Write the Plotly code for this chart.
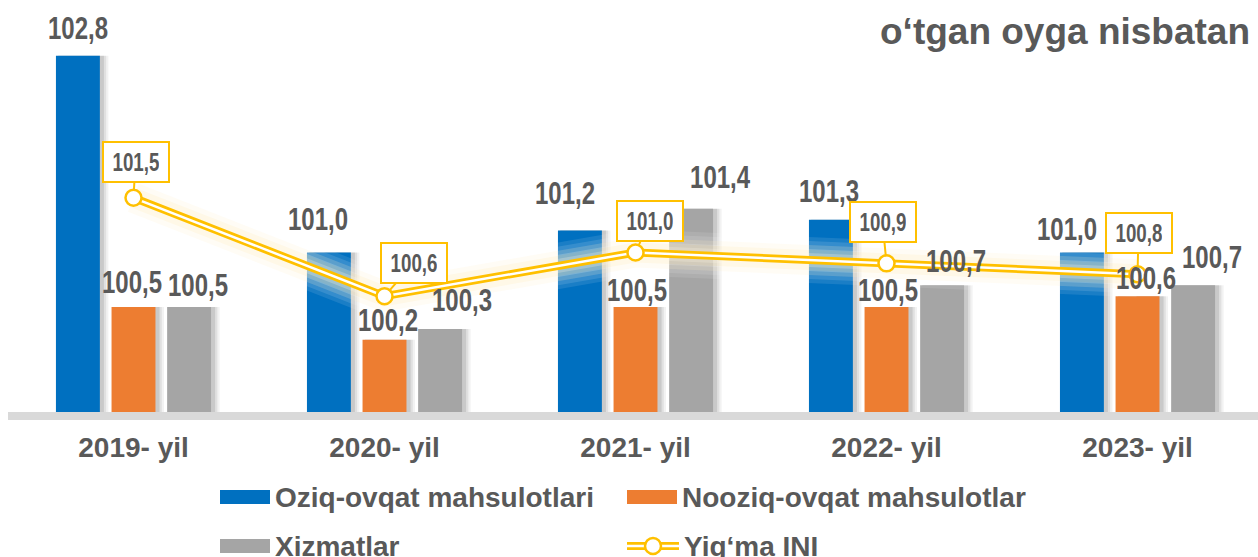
import plotly.graph_objects as go

# ── data ─────────────────────────────────────────────────────
YEARS = ["2019- yil", "2020- yil", "2021- yil", "2022- yil", "2023- yil"]
FOOD = [102.8, 101.0, 101.2, 101.3, 101.0]
NONFOOD = [100.5, 100.2, 100.5, 100.5, 100.6]
SERVICES = [100.5, 100.3, 101.4, 100.7, 100.7]
CPI = [101.5, 100.6, 101.0, 100.9, 100.8]

SERIES_NAMES = ["Oziq-ovqat mahsulotlari", "Nooziq-ovqat mahsulotlar", "Xizmatlar", "Yig‘ma INI"]
TITLE = "o‘tgan oyga nisbatan"

# ── style ────────────────────────────────────────────────────
W, H = 1258, 557
ML, MR, MT, MB = 8, 0, 0, 145
BLUE, ORANGE, GRAY, YELLOW = "#0070C0", "#ED7D31", "#A5A5A5", "#FFC000"
TXT = "#595959"
# "Arial Narrow" in the list only tags the labels that get squeezed below
NARROW = "Liberation Sans, Arial Narrow, sans-serif"
SANS = "Liberation Sans, Arial, sans-serif"

BAR_W = 0.175
OFFSETS = [-0.309, -0.0875, 0.134]
SHADOW_DX = 0.018

# per-label nudges (px): dx, gap above bar
NUDGE = [
    [(0, 16), (-11, 21), (-15, 26), (-2, 17), (-15, 11)],
    [(-2, 13), (3, 8), (1, 5), (1, 5), (8, 6)],
    [(9, 10), (22, 17), (29, 20), (14, 12), (19, 16)],
]
# callout offsets (px) for line labels
CALLOUT = [(2, -36), (29, -33), (14, -31), (-4, -41), (1, -41)]


def px_x(p):
    return (p - ML) / (W - ML - MR)


def px_y(p):
    return (H - MB - p) / (H - MB - MT)


fig = go.Figure()

# bar shadows
for vals, off in zip([FOOD, NONFOOD, SERVICES], OFFSETS):
    for k, a in [(1.4, 0.05), (0.9, 0.07), (0.4, 0.10)]:
        fig.add_trace(go.Bar(
            x=list(range(5)), y=vals, width=BAR_W + SHADOW_DX * k,
            offset=off + SHADOW_DX * 0.5, marker_color=f"rgba(0,0,0,{a})",
            marker_line_width=0, hoverinfo="skip", showlegend=False,
        ))

# bars
for vals, off, col, name in zip([FOOD, NONFOOD, SERVICES], OFFSETS,
                                [BLUE, ORANGE, GRAY], SERIES_NAMES):
    fig.add_trace(go.Bar(
        x=list(range(5)), y=vals, width=BAR_W, offset=off,
        marker_color=col, marker_line_width=0, name=name, showlegend=False,
    ))

# soft glow around the line
for w, c in [(46, "rgba(255,255,255,0.10)"), (38, "rgba(255,255,255,0.12)"),
             (30, "rgba(255,255,255,0.15)"), (22, "rgba(255,255,255,0.20)"),
             (14, "rgba(255,255,255,0.25)"),
             (30, "rgba(255,200,60,0.05)"), (20, "rgba(255,200,60,0.07)")]:
    fig.add_trace(go.Scatter(x=list(range(5)), y=CPI, mode="lines",
                             line=dict(color=c, width=w),
                             hoverinfo="skip", showlegend=False))
# double line
fig.add_trace(go.Scatter(x=list(range(5)), y=CPI, mode="lines",
                         line=dict(color=YELLOW, width=8),
                         hoverinfo="skip", showlegend=False))
fig.add_trace(go.Scatter(x=list(range(5)), y=CPI, mode="lines+markers",
                         line=dict(color="white", width=2.5),
                         marker=dict(size=16, color="white",
                                     line=dict(color=YELLOW, width=2.5)),
                         name=SERIES_NAMES[3], showlegend=False))

ann = []
# bar value labels
for vals, off, nudges in zip([FOOD, NONFOOD, SERVICES], OFFSETS, NUDGE):
    for i, v in enumerate(vals):
        dx, gap = nudges[i]
        ann.append(dict(
            x=i + off + BAR_W / 2, y=v, xref="x", yref="y",
            text=f"{v:.1f}".replace(".", ","), showarrow=False,
            yanchor="bottom", xshift=dx, yshift=gap - 8,
            font=dict(family=NARROW, size=32, color=TXT, weight="bold"),
        ))

# line callouts
for i, v in enumerate(CPI):
    ax, ay = CALLOUT[i]
    ann.append(dict(
        x=i, y=v, xref="x", yref="y", text=f"{v:.1f}".replace(".", ","),
        showarrow=True, arrowhead=0, arrowwidth=2, arrowcolor=YELLOW,
        ax=ax, ay=ay, standoff=7, bgcolor="white", bordercolor=YELLOW,
        borderwidth=2, borderpad=1, width=62, height=36,
        font=dict(family=NARROW, size=25, color=TXT, weight="bold"),
    ))

# title
ann.append(dict(x=1, y=px_y(32), xref="paper", yref="paper", text=TITLE,
                xanchor="right", yanchor="middle", showarrow=False, xshift=-6,
                font=dict(family=SANS, size=37, color=TXT, weight="bold")))

# manual legend
shapes = [dict(type="rect", xref="paper", yref="paper", x0=0, x1=1.01,
               y0=px_y(420), y1=px_y(412), fillcolor="#D9D9D9", line_width=0,
               layer="below")]
legend_rows = [(220, 497, BLUE, SERIES_NAMES[0]), (627, 497, ORANGE, SERIES_NAMES[1]),
               (220, 546, GRAY, SERIES_NAMES[2])]
for x0, yc, col, name in legend_rows:
    shapes.append(dict(type="rect", xref="paper", yref="paper",
                       x0=px_x(x0), x1=px_x(x0 + 50), y0=px_y(yc + 7), y1=px_y(yc - 7),
                       fillcolor=col, line_width=0))
    ann.append(dict(x=px_x(x0 + 53), y=px_y(yc), xref="paper", yref="paper",
                    text=name, showarrow=False, xanchor="left", yanchor="middle",
                    font=dict(family=SANS, size=28, color=TXT, weight="bold")))
lx, ly = 627, 546
shapes += [
    dict(type="line", xref="paper", yref="paper", x0=px_x(lx), x1=px_x(lx + 52),
         y0=px_y(ly), y1=px_y(ly), line=dict(color=YELLOW, width=8)),
    dict(type="line", xref="paper", yref="paper", x0=px_x(lx), x1=px_x(lx + 52),
         y0=px_y(ly), y1=px_y(ly), line=dict(color="white", width=2.5)),
    dict(type="circle", xref="paper", yref="paper", x0=px_x(lx + 18), x1=px_x(lx + 34),
         y0=px_y(ly + 8), y1=px_y(ly - 8), fillcolor="white",
         line=dict(color=YELLOW, width=2.5)),
]
ann.append(dict(x=px_x(lx + 55), y=px_y(ly), xref="paper", yref="paper",
                text=SERIES_NAMES[3], showarrow=False, xanchor="left", yanchor="middle",
                font=dict(family=SANS, size=28, color=TXT, weight="bold")))

fig.update_layout(
    width=W, height=H, barmode="overlay",
    paper_bgcolor="white", plot_bgcolor="white",
    margin=dict(l=ML, r=MR, t=MT, b=MB),
    showlegend=False,
    xaxis=dict(range=[-0.5, 4.48], tickmode="array", tickvals=list(range(5)),
               ticktext=YEARS, showgrid=False, zeroline=False, showline=False,
               ticks="", ticklabelstandoff=16,
               tickfont=dict(family=SANS, size=28, color=TXT, weight="bold")),
    yaxis=dict(range=[99.54, 103.31], visible=False),
    annotations=ann, shapes=shapes,
)

# page without body margin; value labels squeezed like a narrow typeface
POST = """
document.body.style.margin = '0';
document.body.style.overflow = 'hidden';
var gd = document.getElementById('{plot_id}');
gd.querySelectorAll('.annotation-text').forEach(function (t) {
  if ((t.style.fontFamily || '').indexOf('Narrow') >= 0) {
    t.style.transformBox = 'fill-box';
    t.style.transformOrigin = 'center';
    t.style.transform = 'scaleX(0.75)';
  }
});
"""

fig.write_html("out.html", config={"displayModeBar": False}, post_script=POST)
